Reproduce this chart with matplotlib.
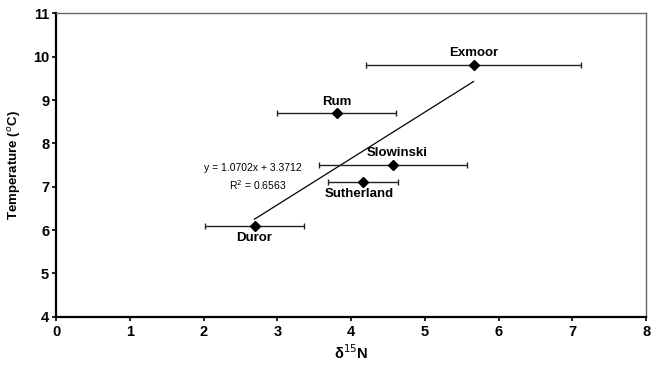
import matplotlib.pyplot as plt
import numpy as np

plt.rcParams['font.family'] = ['Liberation Sans', 'DejaVu Sans']

sites = ['Exmoor', 'Rum', 'Slowinski', 'Sutherland', 'Duror']
d15n = np.array([5.66, 3.81, 4.57, 4.16, 2.69])
temp = np.array([9.81, 8.70, 7.51, 7.11, 6.09])
xlo = np.array([4.20, 2.99, 3.56, 3.69, 2.02])
xhi = np.array([7.12, 4.61, 5.57, 4.63, 3.36])
# label placement: above or below the point
label_pos = ['above', 'above', 'above', 'below', 'below']
label_dx = [0.0, 0.0, 0.06, -0.05, 0.0]

slope = 1.0702
intercept = 3.3712
r2 = 0.6563

fig = plt.figure(figsize=(6.6, 3.73), dpi=100)
ax = fig.add_axes([0.085, 0.151, 0.894, 0.813])

xerr = np.vstack([d15n - xlo, xhi - d15n])
ax.errorbar(d15n, temp, xerr=xerr, fmt='D', color='black', ecolor='#222222',
            markersize=5.5, elinewidth=1.0, capsize=2.5, capthick=1.0, zorder=3)

xf = np.array([d15n.min(), d15n.max()])
ax.plot(xf, slope * xf + intercept, color='black', lw=0.9, zorder=2)

for s, x, y, p, dx in zip(sites, d15n, temp, label_pos, label_dx):
    if p == 'above':
        ax.annotate(s, (x + dx, y), xytext=(0, 4), textcoords='offset points',
                    ha='center', va='bottom', fontsize=9.5, fontweight='bold')
    else:
        ax.annotate(s, (x + dx, y), xytext=(0, -4.5), textcoords='offset points',
                    ha='center', va='top', fontsize=9.5, fontweight='bold')

ax.text(2.67, 7.43, 'y = %.4fx + %.4f' % (slope, intercept), ha='center',
        va='center', fontsize=7.5)
ax.text(2.73, 7.04, 'R$^2$ = %.4f' % r2, ha='center', va='center', fontsize=7.5)

ax.set_xlim(0, 8)
ax.set_ylim(4, 11)
ax.set_xticks(range(0, 9))
ax.set_yticks(range(4, 12))
for lab in ax.get_xticklabels() + ax.get_yticklabels():
    lab.set_fontweight('bold')
ax.tick_params(axis='both', labelsize=10.5, length=3, width=1.2, direction='out')
ax.tick_params(axis='x', pad=3)
ax.tick_params(axis='y', pad=2)

ax.spines['left'].set_linewidth(1.6)
ax.spines['bottom'].set_linewidth(1.6)
ax.spines['top'].set_color('#666666')
ax.spines['right'].set_color('#666666')
ax.spines['top'].set_linewidth(1.0)
ax.spines['right'].set_linewidth(1.0)

ax.set_xlabel('δ$^{15}$N', fontsize=10.5, fontweight='bold', labelpad=3)
ax.set_ylabel('Temperature ($^{o}$C)', fontsize=9.5, fontweight='bold', labelpad=7)

plt.savefig('out.png', dpi=100)
